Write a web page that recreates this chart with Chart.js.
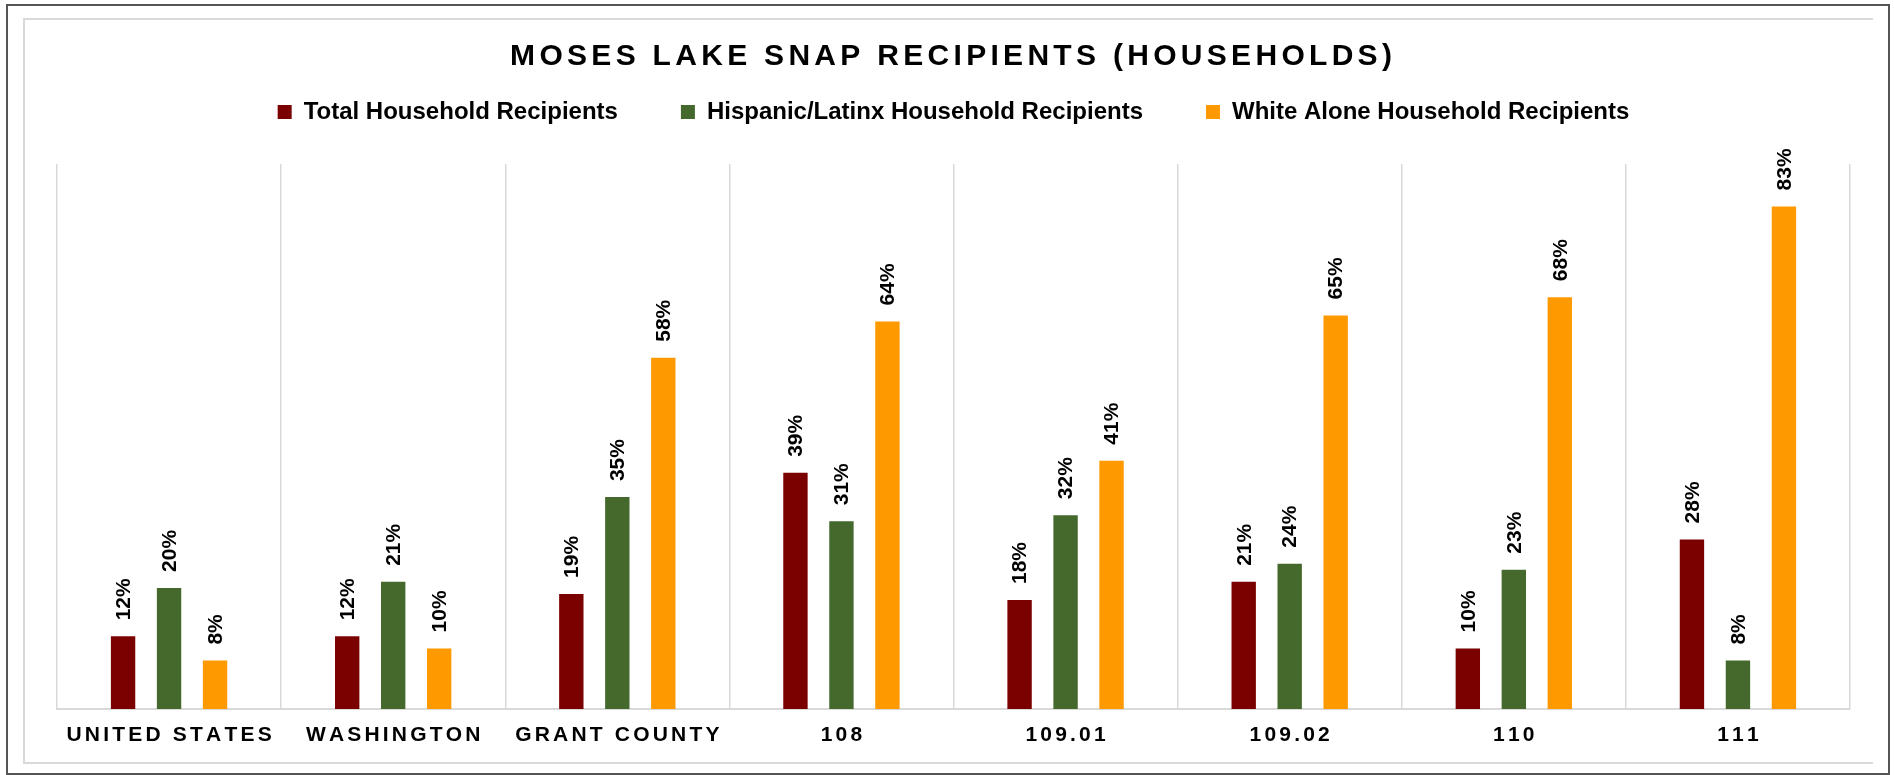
<!DOCTYPE html>
<html>
<head>
<meta charset="utf-8">
<title>Moses Lake SNAP Recipients (Households)</title>
<script src="https://cdn.jsdelivr.net/npm/chart.js@4.4.1/dist/chart.umd.min.js"></script>
<style>
  html, body { margin: 0; padding: 0; background: #fff; }
  #page { position: relative; width: 1894px; height: 775px; overflow: hidden; }
  #outer { position: absolute; left: 6px; top: 4px; width: 1884px; height: 771px;
           box-sizing: border-box; border: 2px solid #555; }
  #inner { position: absolute; left: 23px; top: 18px; width: 1850px; height: 746px;
           box-sizing: border-box; border: 2px solid #d9d9d9; border-right: none; }
  #chart { position: absolute; left: 0; top: 0; }
</style>
</head>
<body>
<div id="page">
  <div id="outer"></div>
  <div id="inner"></div>
  <canvas id="chart" width="1894" height="775"></canvas>
</div>
<script>
// chart data
const chartTitle = 'MOSES LAKE SNAP RECIPIENTS (HOUSEHOLDS)';
const categories = ['UNITED STATES', 'WASHINGTON', 'GRANT COUNTY', '108', '109.01', '109.02', '110', '111'];
const seriesNames = ['Total Household Recipients', 'Hispanic/Latinx Household Recipients', 'White Alone Household Recipients'];
const totalRecipients = [12, 12, 19, 39, 18, 21, 10, 28];
const hispanicRecipients = [20, 21, 35, 31, 32, 24, 23, 8];
const whiteRecipients = [8, 10, 58, 64, 41, 65, 68, 83];
const seriesColors = ['#7B0000', '#45682C', '#FF9900'];

// layout numbers (pixels)
const PAD_TOP = 37;
const PLOT_TOP = 164;

// draw text one glyph at a time so we get letter spacing
function spacedText(ctx, text, cx, cy, spacing) {
  let total = 0;
  for (const ch of text) total += ctx.measureText(ch).width + spacing;
  total -= spacing;
  let x = cx - total / 2;
  ctx.textAlign = 'left';
  for (const ch of text) {
    ctx.fillText(ch, x, cy);
    x += ctx.measureText(ch).width + spacing;
  }
}

// keep a gap between the legend and the plot
const legendGap = {
  id: 'legendGap',
  beforeLayout(chart) {
    const legend = chart.legend;
    if (!legend || legend._gapPatched) return;
    const fit = legend.fit;
    legend.fit = function () {
      fit.call(this);
      this.height = PLOT_TOP - PAD_TOP;
    };
    legend._gapPatched = true;
  }
};

// title and category labels with letter spacing
const spacedLabels = {
  id: 'spacedLabels',
  afterDraw(chart) {
    const ctx = chart.ctx;
    ctx.save();
    ctx.fillStyle = '#000';
    ctx.textBaseline = 'middle';
    ctx.font = 'bold 30px "Liberation Sans", Arial, sans-serif';
    spacedText(ctx, chartTitle, 951, 57, 4.3);

    const xScale = chart.scales.x;
    ctx.font = 'bold 21px "Liberation Sans", Arial, sans-serif';
    categories.forEach((c, i) => {
      spacedText(ctx, c, xScale.getPixelForTick(i), chart.chartArea.bottom + 26, 3.2);
    });
    ctx.restore();
  }
};

// rotated value labels above the bars
const barLabels = {
  id: 'barLabels',
  afterDatasetsDraw(chart) {
    const ctx = chart.ctx;
    ctx.save();
    ctx.fillStyle = '#000';
    ctx.font = 'bold 21px "Liberation Sans", Arial, sans-serif';
    ctx.textAlign = 'left';
    ctx.textBaseline = 'middle';
    chart.data.datasets.forEach((ds, i) => {
      chart.getDatasetMeta(i).data.forEach((bar, j) => {
        ctx.save();
        ctx.translate(bar.x + 1, bar.y - 16);
        ctx.rotate(-Math.PI / 2);
        ctx.fillText(ds.data[j] + '%', 0, 0);
        ctx.restore();
      });
    });
    ctx.restore();
  }
};

const ctx = document.getElementById('chart').getContext('2d');
new Chart(ctx, {
  type: 'bar',
  data: {
    labels: categories,
    datasets: [
      { label: seriesNames[0], data: totalRecipients, backgroundColor: seriesColors[0] },
      { label: seriesNames[1], data: hispanicRecipients, backgroundColor: seriesColors[1] },
      { label: seriesNames[2], data: whiteRecipients, backgroundColor: seriesColors[2] }
    ]
  },
  options: {
    responsive: false,
    animation: false,
    layout: { padding: { top: PAD_TOP, left: 57, right: 44, bottom: 66 } },
    datasets: {
      bar: { categoryPercentage: 0.6155, barPercentage: 0.53 }
    },
    plugins: {
      title: { display: false },
      tooltip: { enabled: false },
      legend: {
        position: 'top',
        labels: {
          boxWidth: 14,
          boxHeight: 14,
          padding: 63,
          color: '#000',
          font: { family: '"Liberation Sans", Arial, sans-serif', size: 24, weight: 'bold' }
        }
      }
    },
    scales: {
      x: {
        grid: { color: '#d9d9d9', lineWidth: 1.5, drawTicks: false, offset: true },
        border: { color: '#d9d9d9', width: 2 },
        ticks: { display: false }
      },
      y: {
        display: false,
        min: 0,
        max: 90
      }
    }
  },
  plugins: [legendGap, spacedLabels, barLabels]
});
</script>
</body>
</html>
